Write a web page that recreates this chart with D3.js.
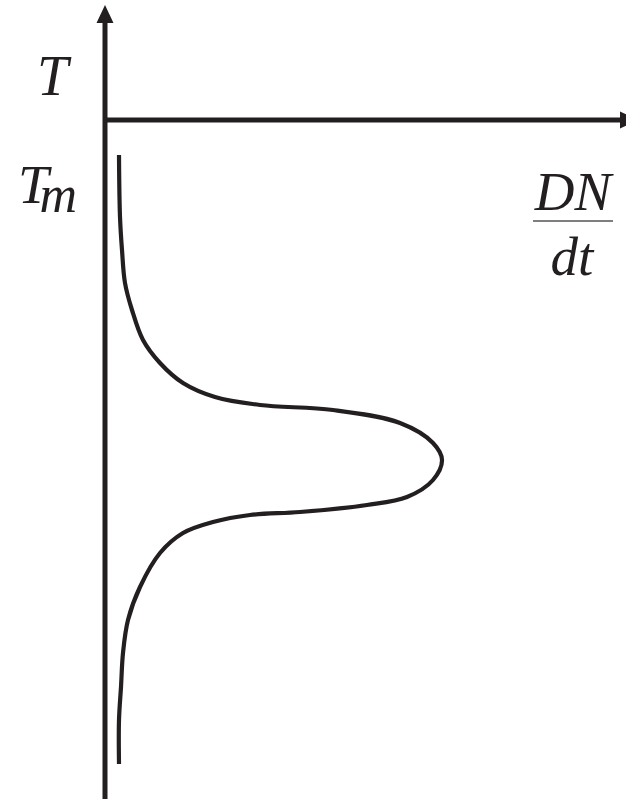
<!DOCTYPE html>
<html>
<head>
<meta charset="utf-8">
<script src="https://cdn.jsdelivr.net/npm/d3@7"></script>
<style>
  html, body { margin: 0; padding: 0; background: #fff; }
  svg { display: block; }
  text { font-family: "Liberation Serif", "DejaVu Serif", serif; font-style: italic; fill: #231f20; }
</style>
</head>
<body>
<svg id="chart" width="626" height="799"></svg>
<script>
// Nucleation rate DN/dt as a function of temperature T (arbitrary units).
const temperature = [645, 583, 550, 517, 490, 460, 437, 417, 403, 395, 390, 377, 357, 340,
                     320, 303, 295, 288, 285, 278, 267, 247, 213, 180, 147, 113, 80, 36];
const rate        = [14, 15, 17, 20, 27, 38, 55, 78, 110, 155, 228, 295, 328, 337,
                     328, 302, 262, 195, 145, 108, 78, 55, 35, 23, 18, 16, 14, 14];

const yLabel = "T";
const tmLabel = "T";
const tmSub = "m";
const xNumerator = "DN";
const xDenominator = "dt";

const ink = "#231f20";
const svg = d3.select("#chart");

const x = d3.scaleLinear().domain([0, 520]).range([105, 625]);
const y = d3.scaleLinear().domain([0, 800]).range([800, 0]);

const axisT = 680;   // temperature level of the horizontal axis
const topT = 795;    // tip of the vertical arrow

// vertical (T) axis
svg.append("line")
  .attr("x1", x(0)).attr("x2", x(0))
  .attr("y1", y(0)).attr("y2", y(topT) + 14)
  .attr("stroke", ink).attr("stroke-width", 5);
svg.append("path")
  .attr("d", `M${x(0)},${y(topT)} L${x(0) - 8.5},${y(topT) + 18} L${x(0) + 8.5},${y(topT) + 18} Z`)
  .attr("fill", ink);

// horizontal (DN/dt) axis
svg.append("line")
  .attr("x1", x(0)).attr("x2", x(515) + 2)
  .attr("y1", y(axisT)).attr("y2", y(axisT))
  .attr("stroke", ink).attr("stroke-width", 5);
svg.append("path")
  .attr("d", `M${x(515) + 18},${y(axisT)} L${x(515)},${y(axisT) - 8.5} L${x(515)},${y(axisT) + 8.5} Z`)
  .attr("fill", ink);

// rate curve
const pts = temperature.map((t, i) => [rate[i], t]);
const line = d3.line()
  .x(d => x(d[0]))
  .y(d => y(d[1]))
  .curve(d3.curveCatmullRom.alpha(0.5));
svg.append("path")
  .attr("d", line(pts))
  .attr("fill", "none")
  .attr("stroke", ink)
  .attr("stroke-width", 4.2)
  .attr("stroke-linecap", "butt");

// labels
svg.append("text").attr("x", 37).attr("y", 95)
  .attr("font-size", 56).text(yLabel);

const tm = svg.append("text").attr("x", 18).attr("y", 203).attr("font-size", 55);
tm.append("tspan").attr("letter-spacing", -9).text(tmLabel);
tm.append("tspan").attr("dy", 9).attr("font-size", 52).text(tmSub);

svg.append("text").attr("x", 573).attr("y", 210)
  .attr("font-size", 55).attr("text-anchor", "middle").text(xNumerator);
svg.append("line")
  .attr("x1", 533).attr("x2", 613).attr("y1", 221).attr("y2", 221)
  .attr("stroke", "#555").attr("stroke-width", 1.5);
svg.append("text").attr("x", 572).attr("y", 275)
  .attr("font-size", 55).attr("text-anchor", "middle").text(xDenominator);
</script>
</body>
</html>
